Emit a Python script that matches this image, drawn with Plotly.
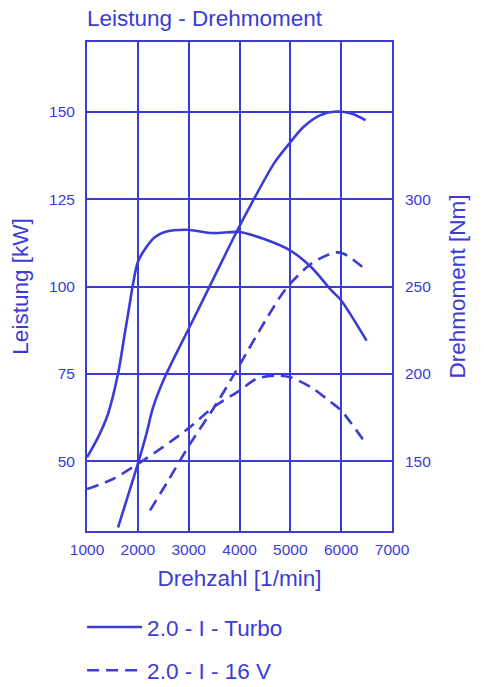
import plotly.graph_objects as go

BLUE = "#3b3bd6"
FONT = "Liberation Sans, Arial, sans-serif"

# 2.0 - I - Turbo
turbo_power_rpm = [1610, 2000, 2169, 2300, 2530, 3000, 3415, 3941, 4256, 4695, 5000, 5252, 5581, 5909, 6200, 6480]
turbo_power_kw = [31, 49.2, 57.8, 65.4, 74, 87.9, 100.1, 115.6, 124.3, 135.6, 141.3, 145.6, 149, 150.1, 149.5, 147.6]
turbo_torque_rpm = [1000, 1217, 1413, 1610, 1742, 1840, 1906, 2000, 2169, 2333, 2530, 2957, 3480, 4000, 4470, 5000, 5413, 5807, 6000, 6500]
turbo_torque_nm = [152.2, 163.6, 177, 200, 222.8, 240, 251.6, 264, 272.6, 278.2, 281.2, 282.5, 280.6, 281.2, 277.3, 270.6, 261, 247.8, 242, 219]

# 2.0 - I - 16 V
v16_power_rpm = [2240, 2600, 3030, 3550, 4000, 4520, 4920, 5410, 5860, 6050, 6500]
v16_power_kw = [35.9, 44.5, 55, 66.5, 77.5, 90.5, 99.5, 106.5, 109.7, 109.4, 104.6]
v16_torque_rpm = [1000, 1512, 2000, 2492, 3022, 3480, 4000, 4340, 4730, 5000, 5413, 5807, 6000, 6492]
v16_torque_nm = [134, 139.8, 148.4, 158, 169.4, 180.8, 190.4, 197.2, 199, 198, 192.2, 183.6, 179, 159.8]

x_ticks = [1000, 2000, 3000, 4000, 5000, 6000, 7000]
kw_ticks = [50, 75, 100, 125, 150]
nm_ticks = [150, 200, 250, 300]

solid = dict(color=BLUE, width=2.6, shape="spline", smoothing=0.8)
dashed = dict(color=BLUE, width=2.6, shape="spline", smoothing=0.8, dash="12px,7px")

fig = go.Figure()
fig.add_trace(go.Scatter(x=turbo_power_rpm, y=turbo_power_kw, mode="lines",
                         name="2.0 - I - Turbo", legendgroup="turbo", line=solid))
fig.add_trace(go.Scatter(x=turbo_torque_rpm, y=turbo_torque_nm, mode="lines", yaxis="y2",
                         name="2.0 - I - Turbo", legendgroup="turbo", showlegend=False, line=solid))
fig.add_trace(go.Scatter(x=v16_power_rpm, y=v16_power_kw, mode="lines",
                         name="2.0 - I - 16 V", legendgroup="v16", line=dashed))
fig.add_trace(go.Scatter(x=v16_torque_rpm, y=v16_torque_nm, mode="lines", yaxis="y2",
                         name="2.0 - I - 16 V", legendgroup="v16", showlegend=False, line=dashed))

fig.update_layout(
    width=484, height=687,
    margin=dict(l=87, r=92, t=42, b=156, autoexpand=False),
    paper_bgcolor="white", plot_bgcolor="white",
    font=dict(family=FONT, color=BLUE, size=15),
    title=dict(text="Leistung - Drehmoment", x=0, xref="paper", xanchor="left",
               y=1 - 18 / 687, yref="container", yanchor="middle",
               font=dict(size=22.5, color=BLUE)),
    xaxis=dict(range=[1000, 7000], tickvals=x_ticks, showgrid=True, gridcolor=BLUE, gridwidth=2,
               showline=True, linecolor=BLUE, linewidth=2, mirror=True, zeroline=False,
               ticks="", ticklabelstandoff=3, tickfont=dict(size=15.5),
               title=dict(text="Drehzahl [1/min]", font=dict(size=22.5), standoff=14)),
    yaxis=dict(range=[30, 170], tickvals=kw_ticks, showgrid=True, gridcolor=BLUE, gridwidth=2,
               showline=True, linecolor=BLUE, linewidth=2, mirror=True, zeroline=False,
               ticks="", ticklabelstandoff=7, tickfont=dict(size=15.5),
               title=dict(text="Leistung [kW]", font=dict(size=22.5), standoff=14)),
    yaxis2=dict(range=[110, 390], tickvals=nm_ticks, overlaying="y", side="right",
                showgrid=False, zeroline=False, showline=False,
                ticks="", ticklabelstandoff=12, tickfont=dict(size=15.5),
                title=dict(text="Drehmoment [Nm]", font=dict(size=22.5), standoff=19)),
    legend=dict(x=-0.016, xanchor="left", y=-0.153, yanchor="top", font=dict(size=22.5, color=BLUE),
                bgcolor="rgba(0,0,0,0)", traceorder="grouped", tracegroupgap=11, itemwidth=55),
)

fig.write_html("out.html", config={"displayModeBar": False},
               post_script="document.body.style.margin='0';")
